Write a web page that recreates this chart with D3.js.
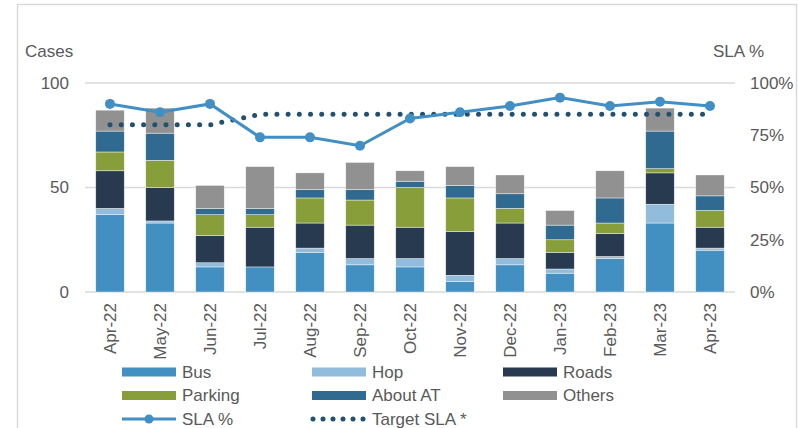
<!DOCTYPE html>
<html>
<head>
<meta charset="utf-8">
<script src="https://cdn.jsdelivr.net/npm/d3@7"></script>
<style>
  body { margin: 0; background: #fff; }
  svg { display: block; font-family: "Liberation Sans", Arial, sans-serif; }
</style>
</head>
<body>
<svg id="chart" width="798" height="428"></svg>
<script>
// chart data
const months = ["Apr-22","May-22","Jun-22","Jul-22","Aug-22","Sep-22","Oct-22","Nov-22","Dec-22","Jan-23","Feb-23","Mar-23","Apr-23"];
const bus     = [37, 33, 12, 12, 19, 13, 12,  5, 13,  9, 16, 33, 20];
const hop     = [ 3,  1,  2,  0,  2,  3,  4,  3,  3,  2,  1,  9,  1];
const roads   = [18, 16, 13, 19, 12, 16, 15, 21, 17,  8, 11, 15, 10];
const parking = [ 9, 13, 10,  6, 12, 12, 19, 16,  7,  6,  5,  2,  8];
const aboutAT = [10, 13,  3,  3,  4,  5,  3,  6,  7,  7, 12, 18,  7];
const others  = [10, 12, 11, 20,  8, 13,  5,  9,  9,  7, 13, 11, 10];
const slaPct  = [90, 86, 90, 74, 74, 70, 83, 86, 89, 93, 89, 91, 89];
const targetSla = [80, 80, 80, 85, 85, 85, 85, 85, 85, 85, 85, 85, 85];
const leftTicks = [0, 50, 100];
const rightTicks = [0, 25, 50, 75, 100];

const series = [
  { name: "Bus", values: bus, color: "#428fc2" },
  { name: "Hop", values: hop, color: "#92bcdc" },
  { name: "Roads", values: roads, color: "#273a50" },
  { name: "Parking", values: parking, color: "#879e3b" },
  { name: "About AT", values: aboutAT, color: "#306a91" },
  { name: "Others", values: others, color: "#919191" }
];

const svg = d3.select("#chart");
const textColor = "#595959";
const gridColor = "#d9d9d9";

// outer frame
svg.append("rect")
  .attr("x", 17.5).attr("y", 4.5)
  .attr("width", 779).attr("height", 440)
  .attr("fill", "none").attr("stroke", gridColor).attr("stroke-width", 1.5);

const x = d3.scaleBand().domain(months).range([85, 735]).paddingInner(0.43).paddingOuter(0.215);
const y = d3.scaleLinear().domain([0, 100]).range([292, 83]);
const y2 = d3.scaleLinear().domain([0, 1]).range([292, 83]);

// gridlines
svg.append("g").selectAll("line")
  .data(leftTicks).enter().append("line")
  .attr("x1", 85).attr("x2", 735)
  .attr("y1", d => y(d)).attr("y2", d => y(d))
  .attr("stroke", gridColor).attr("stroke-width", 1.5);

// left axis
const yAxis = svg.append("g")
  .attr("transform", "translate(85,0)")
  .call(d3.axisLeft(y).tickValues(leftTicks).tickSize(0).tickPadding(16));
yAxis.select(".domain").remove();
yAxis.selectAll("text").attr("fill", textColor).style("font-size", "17px");

// right axis
const y2Axis = svg.append("g")
  .attr("transform", "translate(735,0)")
  .call(d3.axisRight(y2).tickValues(rightTicks.map(d => d / 100)).tickFormat(d3.format(".0%")).tickSize(0).tickPadding(15));
y2Axis.select(".domain").remove();
y2Axis.selectAll("text").attr("fill", textColor).style("font-size", "17px");

svg.append("text").attr("x", 25).attr("y", 57)
  .attr("fill", textColor).style("font-size", "17px").text("Cases");
svg.append("text").attr("x", 713).attr("y", 57)
  .attr("fill", textColor).style("font-size", "17px").text("SLA %");

// stacked bars
const table = months.map((m, i) => {
  const row = { month: m };
  series.forEach(s => { row[s.name] = s.values[i]; });
  return row;
});
const stacked = d3.stack().keys(series.map(s => s.name))(table);

svg.append("g").selectAll("g")
  .data(stacked).enter().append("g")
  .attr("fill", (d, i) => series[i].color)
  .selectAll("rect")
  .data(d => d).enter().append("rect")
  .attr("x", d => x(d.data.month))
  .attr("width", x.bandwidth())
  .attr("y", d => y(d[1]))
  .attr("height", d => y(d[0]) - y(d[1]))
  .attr("stroke", "#ffffff").attr("stroke-width", 0.6).attr("stroke-opacity", 0.7);

// x axis labels
const xAxis = svg.append("g")
  .attr("transform", "translate(0,292)")
  .call(d3.axisBottom(x).tickSize(0));
xAxis.select(".domain").remove();
xAxis.selectAll("text")
  .attr("fill", textColor).style("font-size", "17px")
  .attr("transform", "rotate(-90)")
  .attr("text-anchor", "end")
  .attr("x", -11).attr("y", 0).attr("dy", "0.35em");

const cx = m => x(m) + x.bandwidth() / 2;

// target SLA dotted line
const targetLine = d3.line().x((d, i) => cx(months[i])).y(d => y2(d / 100));
svg.append("path")
  .attr("d", targetLine(targetSla))
  .attr("fill", "none").attr("stroke", "#22506f").attr("stroke-width", 5)
  .attr("stroke-linecap", "round").attr("stroke-dasharray", "0 11.2");

// SLA % line
const slaLine = d3.line().x((d, i) => cx(months[i])).y(d => y2(d / 100));
svg.append("path")
  .attr("d", slaLine(slaPct))
  .attr("fill", "none").attr("stroke", "#418fc4").attr("stroke-width", 3);
svg.append("g").selectAll("circle")
  .data(slaPct).enter().append("circle")
  .attr("cx", (d, i) => cx(months[i])).attr("cy", d => y2(d / 100))
  .attr("r", 5).attr("fill", "#418fc4");

// legend
const legendCols = [122, 312, 503];
const legendRows = [372, 395.5, 419];
const legend = svg.append("g");
series.forEach((s, i) => {
  const lx = legendCols[i % 3], ly = legendRows[Math.floor(i / 3)];
  legend.append("rect").attr("x", lx).attr("y", ly - 4.5).attr("width", 54).attr("height", 9).attr("fill", s.color);
  legend.append("text").attr("x", lx + 60).attr("y", ly).attr("dy", "0.35em")
    .attr("fill", textColor).style("font-size", "17px").text(s.name);
});
// SLA % legend
legend.append("line").attr("x1", 122).attr("x2", 176).attr("y1", legendRows[2]).attr("y2", legendRows[2])
  .attr("stroke", "#418fc4").attr("stroke-width", 3);
legend.append("circle").attr("cx", 149).attr("cy", legendRows[2]).attr("r", 4.5).attr("fill", "#418fc4");
legend.append("text").attr("x", 182).attr("y", legendRows[2]).attr("dy", "0.35em")
  .attr("fill", textColor).style("font-size", "17px").text("SLA %");
// Target legend
legend.append("line").attr("x1", 313).attr("x2", 366).attr("y1", legendRows[2]).attr("y2", legendRows[2])
  .attr("stroke", "#22506f").attr("stroke-width", 5)
  .attr("stroke-linecap", "round").attr("stroke-dasharray", "0 10");
legend.append("text").attr("x", 372).attr("y", legendRows[2]).attr("dy", "0.35em")
  .attr("fill", textColor).style("font-size", "17px").text("Target SLA *");
</script>
</body>
</html>
